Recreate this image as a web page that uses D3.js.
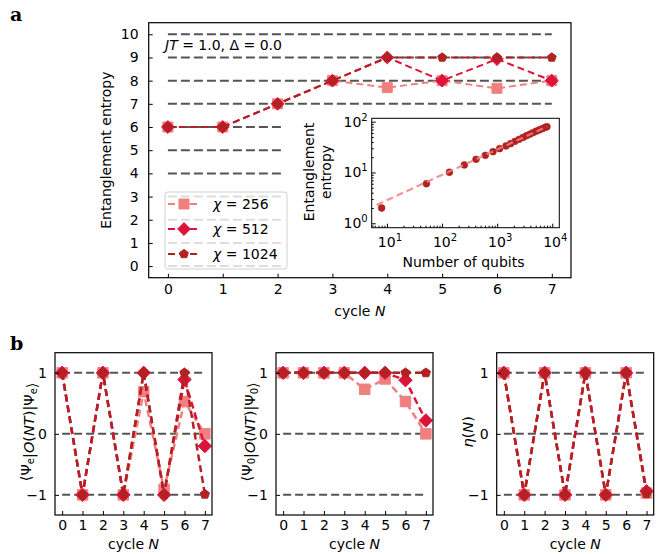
<!DOCTYPE html>
<html>
<head>
<meta charset="utf-8">
<script src="https://cdn.jsdelivr.net/npm/d3@7"></script>
<style>
  body { margin: 0; background: #fff; }
  text { font-family: "DejaVu Sans", sans-serif; fill: #000; }
</style>
</head>
<body>
<div id="fig"></div>
<script>
// ---- data ----
const cycles = [0, 1, 2, 3, 4, 5, 6, 7];
const chiLabels = ["256", "512", "1024"];

// panel a: entanglement entropy per cycle
const entropy256 = [6, 6, 7, 8, 7.7, 8, 7.67, 8];
const entropy512 = [6, 6, 7, 8, 9, 8, 8.93, 8];
const entropy1024 = [6, 6, 7, 8, 9, 9, 9, 9];
const levelsLong = [7, 8, 9, 10];
const levelsShort = [0, 1, 2, 3, 4, 5, 6];
const topYTicks = [0, 1, 2, 3, 4, 5, 6, 7, 8, 9, 10];

// inset: entropy vs number of qubits (log-log)
const qubits = [8, 52, 136, 254, 413, 609, 839, 1107, 1445, 1750, 2100, 2500, 2950, 3400, 3950, 4500, 5100, 5800, 6600, 7400, 8000];
const qubitEntropy = [2.0, 6.0, 10.1, 14.1, 18.2, 21.8, 25.7, 29.5, 33.3, 37, 41, 45, 49, 53, 57, 61, 65, 69, 73, 77, 79.6];
const fitQubits = [6.5, 8000];
const fitEntropy = [2.3, 80];
const insetXTicks = [1, 2, 3, 4];   // exponents
const insetYTicks = [0, 1, 2];

// panel b: observables per cycle
const psiE256 = [1, -1, 1, -1, 0.69, -0.91, 0.53, 0];
const psiE512 = [1, -1, 1, -1, 1, -1, 0.89, -0.2];
const psiE1024 = [1, -1, 1, -1, 1, -1, 1, -0.99];
const psi0256 = [1, 1, 1, 1, 0.73, 0.9, 0.53, 0];
const psi0512 = [1, 1, 1, 1, 1, 1, 0.88, 0.22];
const psi01024 = [1, 1, 1, 1, 1, 1, 1, 1];
const eta256 = [1, -1, 1, -1, 1, -1, 1, -0.97];
const eta512 = [1, -1, 1, -1, 1, -1, 1, -0.94];
const eta1024 = [1, -1, 1, -1, 1, -1, 1, -0.98];
const bottomLevels = [-1, 0, 1];

// ---- styles ----
const colors = ["#f08080", "#dc143c", "#b22222"];
const shapes = ["square", "diamond", "pentagon"];
const gray = "#555";

function markerPath(shape, s) {
  if (shape === "square") return `M${-s/2},${-s/2}h${s}v${s}h${-s}Z`;
  if (shape === "diamond") { const r = s * 0.64; return `M0,${-r}L${r},0L0,${r}L${-r},0Z`; }
  const r = s * 0.46;
  const pts = d3.range(5).map(k => {
    const a = -Math.PI / 2 + k * 2 * Math.PI / 5;
    return [r * Math.cos(a), r * Math.sin(a)];
  });
  return "M" + pts.map(p => p.join(",")).join("L") + "Z";
}

const svg = d3.select("#fig").append("svg")
  .attr("width", 660).attr("height", 554);

// panel letters
svg.append("text").attr("x", 10).attr("y", 21)
  .style("font-family", "'DejaVu Serif', serif").style("font-weight", "bold").style("font-size", "19px")
  .text("a");
svg.append("text").attr("x", 10).attr("y", 350)
  .style("font-family", "'DejaVu Serif', serif").style("font-weight", "bold").style("font-size", "19px")
  .text("b");

function drawSeries(g, x, y, values, i, opt) {
  const line = d3.line().x((d, j) => x(cycles[j])).y(d => y(d));
  g.append("path").datum(values)
    .attr("d", line).attr("fill", "none")
    .attr("stroke", colors[i]).attr("stroke-width", opt.lw)
    .attr("stroke-dasharray", opt.dash);
  g.selectAll(null).data(values).enter().append("path")
    .attr("transform", (d, j) => `translate(${x(cycles[j])},${y(d)})`)
    .attr("d", markerPath(shapes[i], opt.ms))
    .attr("fill", colors[i]).attr("stroke", colors[i]).attr("stroke-width", 1);
}

function styleAxis(sel, fs) {
  sel.select(".domain").remove();
  sel.selectAll(".tick line").attr("stroke", "#000").attr("stroke-width", 1);
  sel.selectAll(".tick text").style("font-size", fs + "px").attr("fill", "#000");
}

// ================= panel a =================
const A = { left: 148.7, top: 22.7, width: 422.3, height: 255 };
const ga = svg.append("g").attr("transform", `translate(${A.left},${A.top})`);
const xa = d3.scaleLinear().domain([-0.35, 7.35]).range([0, A.width]);
const ya = d3.scaleLinear().domain([-0.5, 10.5]).range([A.height, 0]);

ga.selectAll(null).data(levelsLong).enter().append("line")
  .attr("x1", xa(0)).attr("x2", xa(7)).attr("y1", d => ya(d)).attr("y2", d => ya(d))
  .attr("stroke", gray).attr("stroke-width", 2).attr("stroke-dasharray", "9,4");
ga.selectAll(null).data(levelsShort).enter().append("line")
  .attr("x1", xa(0)).attr("x2", xa(2.13)).attr("y1", d => ya(d)).attr("y2", d => ya(d))
  .attr("stroke", gray).attr("stroke-width", 2).attr("stroke-dasharray", "9,4");

[entropy256, entropy512, entropy1024].forEach((vals, i) =>
  drawSeries(ga, xa, ya, vals, i, { lw: 2, dash: "7,4", ms: 10 }));

ga.append("g").attr("transform", `translate(0,${A.height})`)
  .call(d3.axisBottom(xa).tickValues(cycles).tickSizeInner(-4).tickSizeOuter(0).tickPadding(6))
  .call(s => styleAxis(s, 14));
ga.append("g")
  .call(d3.axisLeft(ya).tickValues(topYTicks).tickSizeInner(-4).tickSizeOuter(0).tickPadding(10))
  .call(s => styleAxis(s, 14));

ga.append("rect").attr("width", A.width).attr("height", A.height)
  .attr("fill", "none").attr("stroke", "#000").attr("stroke-width", 1.2);

ga.append("text").attr("x", 165 - A.left).attr("y", 50 - A.top).style("font-size", "14px")
  .call(t => {
    t.append("tspan").style("font-style", "italic").text("JT");
    t.append("tspan").text(" = 1.0, Δ = 0.0");
  });

svg.append("text").attr("transform", `translate(${A.left - 38},${A.top + A.height / 2}) rotate(-90)`)
  .attr("text-anchor", "middle").style("font-size", "14px").text("Entanglement entropy");
svg.append("text").attr("x", A.left + A.width / 2).attr("y", 316)
  .attr("text-anchor", "middle").style("font-size", "14px")
  .call(t => { t.append("tspan").text("cycle "); t.append("tspan").style("font-style", "italic").text("N"); });

// legend
const lg = svg.append("g");
lg.append("rect").attr("x", 165).attr("y", 192).attr("width", 122).attr("height", 77)
  .attr("rx", 3).attr("fill", "#fff").attr("fill-opacity", 0.8)
  .attr("stroke", "#d0d0d0").attr("stroke-width", 1);
chiLabels.forEach((lab, i) => {
  const cy = 204 + i * 25;
  lg.append("line").attr("x1", 168).attr("x2", 200).attr("y1", cy).attr("y2", cy)
    .attr("stroke", colors[i]).attr("stroke-width", 2).attr("stroke-dasharray", "7,4");
  lg.append("path").attr("transform", `translate(184,${cy})`)
    .attr("d", markerPath(shapes[i], 10)).attr("fill", colors[i]).attr("stroke", colors[i]);
  lg.append("text").attr("x", 213).attr("y", cy + 5).style("font-size", "14px")
    .call(t => { t.append("tspan").style("font-style", "italic").text("χ"); t.append("tspan").text(" = " + lab); });
});

// inset
const I = { left: 371.7, top: 118.3, width: 187.6, height: 109.4 };
const gi = svg.append("g").attr("transform", `translate(${I.left},${I.top})`);
gi.append("rect").attr("width", I.width).attr("height", I.height).attr("fill", "#fff");
const xi = d3.scaleLog().domain([Math.pow(10, 0.723), Math.pow(10, 4.127)]).range([0, I.width]);
const yi = d3.scaleLog().domain([Math.pow(10, -0.087), Math.pow(10, 2.067)]).range([I.height, 0]);

gi.selectAll(null).data(qubits).enter().append("circle")
  .attr("cx", d => xi(d)).attr("cy", (d, j) => yi(qubitEntropy[j])).attr("r", 3.4)
  .attr("fill", colors[2]).attr("stroke", colors[2]).attr("stroke-opacity", 0.6);
gi.append("path").datum(fitQubits.map((q, j) => [q, fitEntropy[j]]))
  .attr("d", d3.line().x(d => xi(d[0])).y(d => yi(d[1])))
  .attr("stroke", colors[0]).attr("stroke-width", 2.2).attr("stroke-opacity", 0.85)
  .attr("stroke-dasharray", "7,4").attr("fill", "none");

const minorX = xi.ticks().filter(v => !insetXTicks.map(e => Math.pow(10, e)).includes(v));
const minorY = yi.ticks().filter(v => !insetYTicks.map(e => Math.pow(10, e)).includes(v));
gi.append("g").attr("transform", `translate(0,${I.height})`)
  .call(d3.axisBottom(xi).tickValues(minorX).tickSizeInner(-2).tickSizeOuter(0).tickFormat(() => ""))
  .call(s => styleAxis(s, 14));
gi.append("g")
  .call(d3.axisLeft(yi).tickValues(minorY).tickSizeInner(-2).tickSizeOuter(0).tickFormat(() => ""))
  .call(s => styleAxis(s, 14));
gi.append("g").attr("transform", `translate(0,${I.height})`)
  .call(d3.axisBottom(xi).tickValues(insetXTicks.map(e => Math.pow(10, e))).tickSizeInner(-4).tickSizeOuter(0).tickFormat(() => ""))
  .call(s => styleAxis(s, 14));
gi.append("g")
  .call(d3.axisLeft(yi).tickValues(insetYTicks.map(e => Math.pow(10, e))).tickSizeInner(-4).tickSizeOuter(0).tickFormat(() => ""))
  .call(s => styleAxis(s, 14));

function powLabel(t, e) {
  t.append("tspan").text("10");
  t.append("tspan").attr("dy", -6).style("font-size", "10px").text(e);
}
gi.selectAll(null).data(insetXTicks).enter().append("text")
  .attr("x", e => xi(Math.pow(10, e)) + 3).attr("y", I.height + 19)
  .attr("text-anchor", "middle").style("font-size", "14px")
  .each(function (e) { powLabel(d3.select(this), e); });
gi.selectAll(null).data(insetYTicks).enter().append("text")
  .attr("x", -4).attr("y", e => yi(Math.pow(10, e)) + 5)
  .attr("text-anchor", "end").style("font-size", "14px")
  .each(function (e) { powLabel(d3.select(this), e); });

gi.append("rect").attr("width", I.width).attr("height", I.height)
  .attr("fill", "none").attr("stroke", "#000").attr("stroke-width", 1);

svg.append("text").attr("x", I.left + I.width / 2 - 2).attr("y", 267)
  .attr("text-anchor", "middle").style("font-size", "14px").text("Number of qubits");
svg.append("text").attr("transform", `translate(313.5,172) rotate(-90)`)
  .attr("text-anchor", "middle").style("font-size", "14px")
  .call(t => {
    t.append("tspan").attr("x", 0).text("Entanglement");
    t.append("tspan").attr("x", 0).attr("dy", 17).text("entropy");
  });

// ================= panel b =================
const B = { top: 352.7, width: 157, height: 162.3 };
const bottomPanels = [
  { left: 55, series: [psiE256, psiE512, psiE1024], label: "e" },
  { left: 276, series: [psi0256, psi0512, psi01024], label: "0" },
  { left: 496.7, series: [eta256, eta512, eta1024], label: null }
];
bottomPanels.forEach(p => {
  const g = svg.append("g").attr("transform", `translate(${p.left},${B.top})`);
  const x = d3.scaleLinear().domain([-0.35, 7.35]).range([0, B.width]);
  const y = d3.scaleLinear().domain([-1.33, 1.33]).range([B.height, 0]);

  g.selectAll(null).data(bottomLevels).enter().append("line")
    .attr("x1", x(0)).attr("x2", x(7)).attr("y1", d => y(d)).attr("y2", d => y(d))
    .attr("stroke", gray).attr("stroke-width", 2).attr("stroke-dasharray", "8,4");

  p.series.forEach((vals, i) => drawSeries(g, x, y, vals, i, { lw: 2.5, dash: "7,4", ms: 10.5 }));

  g.append("g").attr("transform", `translate(0,${B.height})`)
    .call(d3.axisBottom(x).tickValues(cycles).tickSizeInner(-4).tickSizeOuter(0).tickPadding(5))
    .call(s => styleAxis(s, 14));
  g.append("g")
    .call(d3.axisLeft(y).tickValues(bottomLevels).tickSizeInner(-4).tickSizeOuter(0).tickPadding(8)
      .tickFormat(d => d < 0 ? "−" + Math.abs(d) : String(d)))
    .call(s => styleAxis(s, 14));
  g.append("rect").attr("width", B.width).attr("height", B.height)
    .attr("fill", "none").attr("stroke", "#000").attr("stroke-width", 1.2);

  svg.append("text").attr("x", p.left + B.width / 2).attr("y", 549)
    .attr("text-anchor", "middle").style("font-size", "14px")
    .call(t => { t.append("tspan").text("cycle "); t.append("tspan").style("font-style", "italic").text("N"); });

  const yl = svg.append("text")
    .attr("transform", `translate(${p.left - 24},${B.top + B.height / 2 - 2}) rotate(-90)`)
    .attr("text-anchor", "middle").style("font-size", "14.5px");
  if (p.label) {
    const psi = t => { t.append("tspan").text("Ψ"); t.append("tspan").attr("dy", 3).style("font-size", "10px").text(p.label); t.append("tspan").attr("dy", -3).text(""); };
    yl.append("tspan").text("⟨");
    psi(yl);
    yl.append("tspan").text("|");
    yl.append("tspan").style("font-style", "italic").text("O");
    yl.append("tspan").text("(");
    yl.append("tspan").style("font-style", "italic").text("NT");
    yl.append("tspan").text(")|");
    psi(yl);
    yl.append("tspan").text("⟩");
  } else {
    yl.append("tspan").style("font-style", "italic").text("η");
    yl.append("tspan").text("(");
    yl.append("tspan").style("font-style", "italic").text("N");
    yl.append("tspan").text(")");
  }
});
</script>
</body>
</html>
